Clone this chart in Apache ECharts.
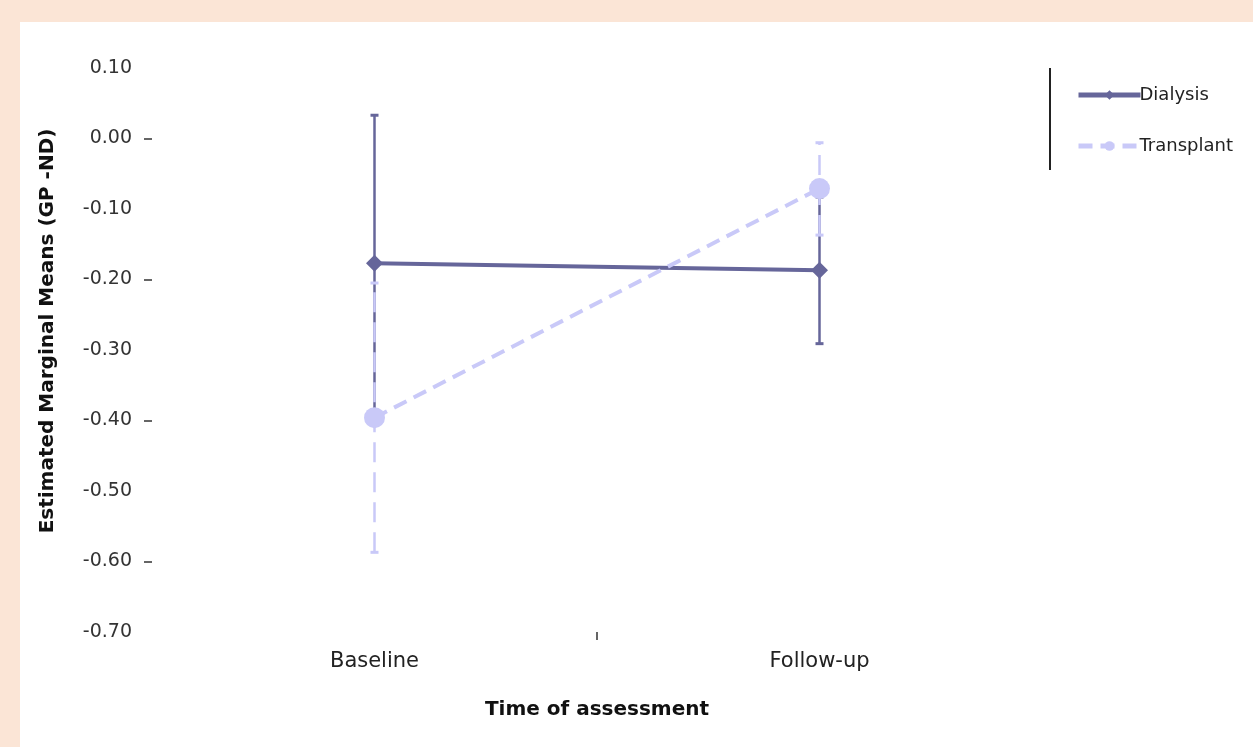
<!DOCTYPE html>
<html>
<head>
<meta charset="utf-8">
<script src="https://cdn.jsdelivr.net/npm/echarts@6/dist/echarts.min.js"></script>
<style>
  html, body { margin: 0; padding: 0; background: #fbe5d6; }
  #chart { position: absolute; left: 20px; top: 22px; width: 1233px; height: 725px; background: #ffffff; }
</style>
</head>
<body>
<div id="chart"></div>
<script>
// values
const categories = ["Baseline", "Follow-up"];
const dialysisMean = [-0.177, -0.187];
const dialysisLow = [-0.387, -0.291];
const dialysisHigh = [0.033, -0.083];
const transplantMean = [-0.396, -0.071];
const transplantLow = [-0.587, -0.137];
const transplantHigh = [-0.205, -0.006];

const DARK = "#66669a";
const LIGHT = "#c9c9f8";
const FONT = "DejaVu Sans, Liberation Sans, sans-serif";

const errData = (low, high) => low.map((v, i) => [i, v, high[i]]);

// vertical whisker with small caps
const errorBar = (color, dash) => (params, api) => {
  const lo = api.coord([api.value(0), api.value(1)]);
  const hi = api.coord([api.value(0), api.value(2)]);
  const cap = 4;
  return {
    type: "group",
    children: [
      { type: "line", shape: { x1: lo[0], y1: lo[1], x2: hi[0], y2: hi[1] },
        style: { stroke: color, lineWidth: 2.5, lineDash: dash } },
      { type: "line", shape: { x1: lo[0] - cap, y1: lo[1], x2: lo[0] + cap, y2: lo[1] },
        style: { stroke: color, lineWidth: 3 } },
      { type: "line", shape: { x1: hi[0] - cap, y1: hi[1], x2: hi[0] + cap, y2: hi[1] },
        style: { stroke: color, lineWidth: 3 } },
    ],
  };
};

const chart = echarts.init(document.getElementById("chart"));
chart.setOption({
  animation: false,
  textStyle: { fontFamily: FONT },
  grid: { left: 132, right: 211, top: 46, bottom: 115 },
  legend: {
    left: 1051,
    top: 59,
    orient: "vertical",
    itemWidth: 62,
    itemHeight: 12,
    itemGap: 33,
    lineStyle: { width: 5 },
    textStyle: { fontSize: 18, color: "#222", padding: [0, 0, 0, -6] },
    data: ["Dialysis", "Transplant"],
  },
  graphic: [
    { type: "line", shape: { x1: 1030, y1: 46, x2: 1030, y2: 148 },
      style: { stroke: "#222", lineWidth: 2 } },
  ],
  xAxis: [
    {
      type: "category",
      data: categories,
      boundaryGap: true,
      name: "Time of assessment",
      nameLocation: "middle",
      nameGap: 68,
      nameTextStyle: { fontSize: 20, fontWeight: "bold", color: "#111" },
      axisLine: { show: false, onZero: false },
      axisTick: { show: false },
      axisLabel: { fontSize: 21, color: "#222", margin: 19 },
    },
    {
      // only used for the single tick between the two groups
      type: "value",
      min: 0,
      max: 2,
      interval: 2,
      position: "bottom",
      axisLine: { show: false, onZero: false },
      axisTick: { show: false },
      axisLabel: { show: false },
      splitLine: { show: false },
      minorTick: { show: true, splitNumber: 2, length: 8, lineStyle: { color: "#333", width: 1.5 } },
    },
  ],
  yAxis: [
    {
      type: "value",
      min: -0.7,
      max: 0.1,
      interval: 0.1,
      name: "Estimated Marginal Means (GP -ND)",
      nameLocation: "middle",
      nameGap: 94,
      nameTextStyle: { fontSize: 20, fontWeight: "bold", color: "#111", padding: [0, 0, 0, 38] },
      axisLine: { show: false, onZero: false },
      axisTick: { show: false },
      splitLine: { show: false },
      axisLabel: { fontSize: 19, color: "#333", margin: 20, formatter: (v) => v.toFixed(2) },
    },
    {
      // alternate tick marks (0.00, -0.20, -0.40, -0.60)
      type: "value",
      min: -0.7,
      max: 0.1,
      interval: 0.2,
      position: "left",
      axisLine: { show: false, onZero: false },
      axisTick: { show: false },
      axisLabel: { show: false },
      splitLine: { show: false },
      minorTick: { show: true, splitNumber: 2, length: 8, lineStyle: { color: "#333", width: 1.5 } },
    },
  ],
  series: [
    {
      name: "Dialysis CI",
      type: "custom",
      renderItem: errorBar(DARK, null),
      data: errData(dialysisLow, dialysisHigh),
      encode: { x: 0, y: [1, 2] },
      z: 2,
    },
    {
      name: "Dialysis",
      type: "line",
      data: dialysisMean,
      symbol: "diamond",
      symbolSize: 17,
      lineStyle: { color: DARK, width: 4 },
      itemStyle: { color: DARK },
      z: 3,
    },
    {
      name: "Transplant CI",
      type: "custom",
      renderItem: errorBar(LIGHT, [20, 10]),
      data: errData(transplantLow, transplantHigh),
      encode: { x: 0, y: [1, 2] },
      z: 4,
    },
    {
      name: "Transplant",
      type: "line",
      data: transplantMean,
      symbol: "circle",
      symbolSize: 21,
      lineStyle: { color: LIGHT, width: 4, type: [14, 8] },
      itemStyle: { color: LIGHT },
      z: 5,
    },
  ],
});
</script>
</body>
</html>
